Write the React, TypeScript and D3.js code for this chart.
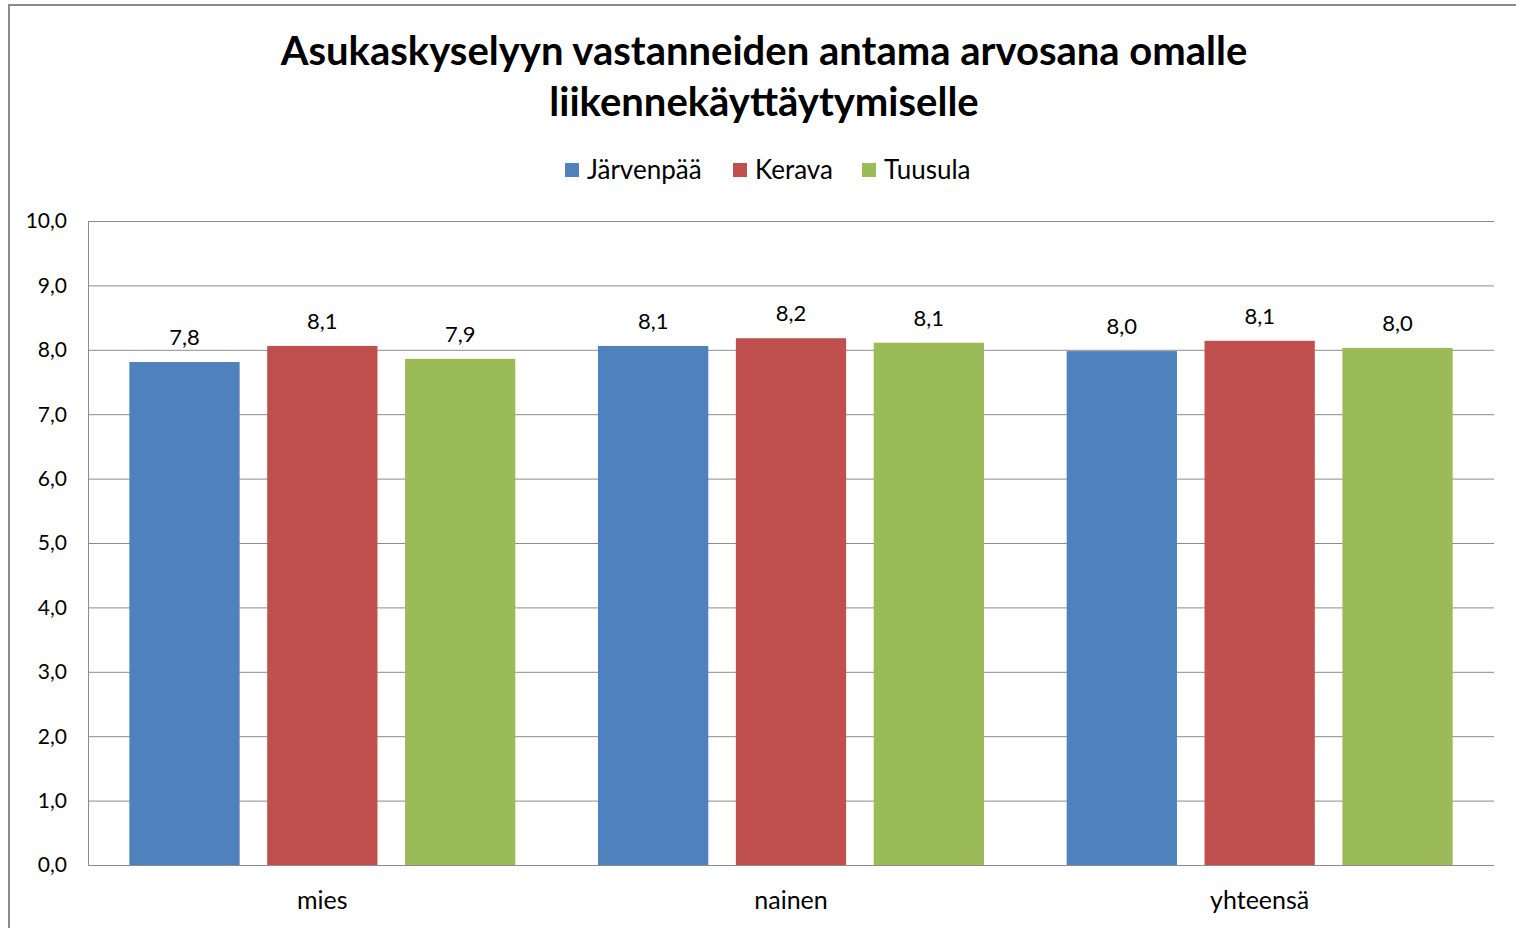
import React, { useEffect, useRef } from "react";
import * as d3 from "d3";

const categories = ["mies", "nainen", "yhteensä"];
const seriesNames = ["Järvenpää", "Kerava", "Tuusula"];
const jarvenpaa = [7.81, 8.06, 7.98];
const kerava = [8.06, 8.18, 8.14];
const tuusula = [7.86, 8.11, 8.03];
const yTicks = [0, 1, 2, 3, 4, 5, 6, 7, 8, 9, 10];
const colors = ["#4F81BD", "#C0504D", "#9BBB59"];

const FONT = "Lato, 'Open Sans', sans-serif";

function App() {
  const svgRef = useRef<SVGSVGElement>(null);

  useEffect(() => {
    const width = 1516;
    const height = 928;
    const margin = { top: 221, right: 22, bottom: 63, left: 88 };
    const svg = d3.select(svgRef.current);
    svg.selectAll("*").remove();

    const series = [jarvenpaa, kerava, tuusula];

    // chart frame
    svg
      .append("rect")
      .attr("x", 9)
      .attr("y", 5)
      .attr("width", width + 20)
      .attr("height", height + 20)
      .attr("fill", "white")
      .attr("stroke", "#8a8a8a")
      .attr("stroke-width", 2);

    // title
    const title = svg
      .append("text")
      .attr("text-anchor", "middle")
      .style("font-family", FONT)
      .style("font-weight", "bold")
      .style("font-size", "40px")
      .style("fill", "#000");
    title.append("tspan").attr("x", 764).attr("y", 65).text("Asukaskyselyyn vastanneiden antama arvosana omalle");
    title.append("tspan").attr("x", 764).attr("y", 116).text("liikennekäyttäytymiselle");

    const x0 = d3
      .scaleBand()
      .domain(categories)
      .range([margin.left, width - margin.right])
      .paddingInner(0)
      .paddingOuter(0);

    const x1 = d3
      .scaleBand()
      .domain(seriesNames)
      .range([0, x0.bandwidth()])
      .paddingInner(0.2)
      .paddingOuter(0.3);

    const y = d3
      .scaleLinear()
      .domain([0, 10])
      .range([height - margin.bottom, margin.top]);

    // gridlines
    svg
      .append("g")
      .selectAll("line")
      .data(yTicks)
      .join("line")
      .attr("x1", margin.left)
      .attr("x2", width - margin.right)
      .attr("y1", (d) => y(d) + 0.5)
      .attr("y2", (d) => y(d) + 0.5)
      .attr("stroke", "#8c8c8c")
      .attr("stroke-width", 1);

    // y axis line
    svg
      .append("line")
      .attr("x1", margin.left + 0.5)
      .attr("x2", margin.left + 0.5)
      .attr("y1", y(10))
      .attr("y2", y(0) + 1)
      .attr("stroke", "#8c8c8c");

    // y tick labels
    svg
      .append("g")
      .selectAll("text")
      .data(yTicks)
      .join("text")
      .attr("x", 67)
      .attr("y", (d) => y(d))
      .attr("dy", "0.35em")
      .attr("text-anchor", "end")
      .style("font-family", FONT)
      .style("font-size", "21px")
      .style("fill", "#000")
      .text((d) => d3.format(".1f")(d).replace(".", ","));

    // bars
    categories.forEach((cat, ci) => {
      const g = svg.append("g").attr("transform", `translate(${x0(cat)},0)`);
      seriesNames.forEach((s, si) => {
        const v = series[si][ci];
        g.append("rect")
          .attr("x", x1(s)!)
          .attr("y", y(v))
          .attr("width", x1.bandwidth())
          .attr("height", y(0) - y(v))
          .attr("fill", colors[si]);
        g.append("text")
          .attr("x", x1(s)! + x1.bandwidth() / 2)
          .attr("y", y(v) - 17)
          .attr("text-anchor", "middle")
          .style("font-family", FONT)
          .style("font-size", "22px")
          .style("fill", "#000")
          .text(d3.format(".1f")(v).replace(".", ","));
      });
      svg
        .append("text")
        .attr("x", x0(cat)! + x0.bandwidth() / 2)
        .attr("y", 909)
        .attr("text-anchor", "middle")
        .style("font-family", FONT)
        .style("font-size", "25px")
        .style("fill", "#000")
        .text(cat);
    });

    // legend
    const legendX = [565, 733, 862];
    const legend = svg.append("g");
    seriesNames.forEach((s, i) => {
      legend
        .append("rect")
        .attr("x", legendX[i])
        .attr("y", 163)
        .attr("width", 14)
        .attr("height", 14)
        .attr("fill", colors[i]);
      legend
        .append("text")
        .attr("x", legendX[i] + 22)
        .attr("y", 179)
        .style("font-family", FONT)
        .style("font-size", "26px")
        .style("fill", "#000")
        .text(s);
    });
  }, []);

  return (
    <svg
      ref={svgRef}
      width={1516}
      height={928}
      style={{ position: "absolute", left: 0, top: 0, background: "white" }}
    />
  );
}

export default App;
